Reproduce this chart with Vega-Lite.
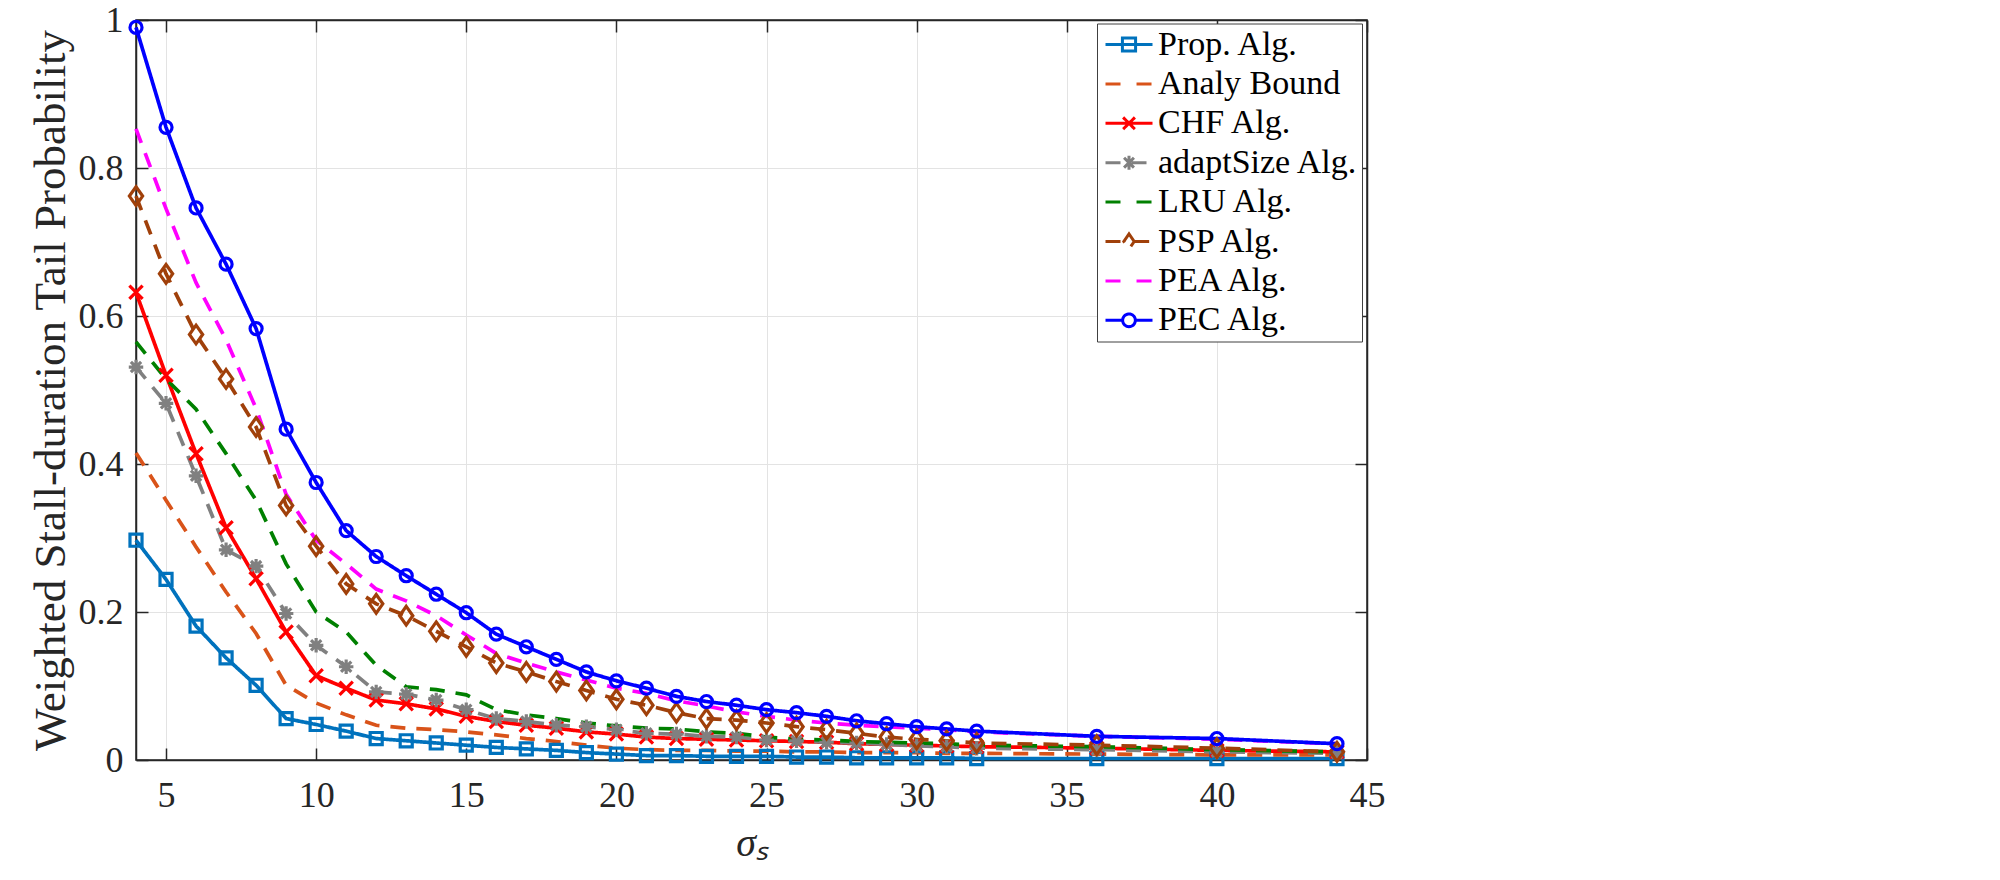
{
  "$schema": "https://vega.github.io/schema/vega-lite/v6.json",
  "width": 1231,
  "height": 740,
  "autosize": {"type": "none"},
  "padding": {"left": 136, "top": 20, "right": 633, "bottom": 120},
  "background": "white",
  "config": {
    "view": {"stroke": "#262626", "strokeWidth": 1.5},
    "font": "Liberation Serif"
  },
  "data": {
    "values": [
      {"s":"Prop. Alg.","x":4,"y":0.297},{"s":"Prop. Alg.","x":5,"y":0.244},{"s":"Prop. Alg.","x":6,"y":0.181},{"s":"Prop. Alg.","x":7,"y":0.138},{"s":"Prop. Alg.","x":8,"y":0.101},{"s":"Prop. Alg.","x":9,"y":0.056},{"s":"Prop. Alg.","x":10,"y":0.048},{"s":"Prop. Alg.","x":11,"y":0.039},{"s":"Prop. Alg.","x":12,"y":0.029},{"s":"Prop. Alg.","x":13,"y":0.026},{"s":"Prop. Alg.","x":14,"y":0.023},{"s":"Prop. Alg.","x":15,"y":0.020},{"s":"Prop. Alg.","x":16,"y":0.017},{"s":"Prop. Alg.","x":17,"y":0.015},{"s":"Prop. Alg.","x":18,"y":0.013},{"s":"Prop. Alg.","x":19,"y":0.010},{"s":"Prop. Alg.","x":20,"y":0.008},{"s":"Prop. Alg.","x":21,"y":0.006},{"s":"Prop. Alg.","x":22,"y":0.006},{"s":"Prop. Alg.","x":23,"y":0.005},{"s":"Prop. Alg.","x":24,"y":0.005},{"s":"Prop. Alg.","x":25,"y":0.005},{"s":"Prop. Alg.","x":26,"y":0.004},{"s":"Prop. Alg.","x":27,"y":0.004},{"s":"Prop. Alg.","x":28,"y":0.003},{"s":"Prop. Alg.","x":29,"y":0.003},{"s":"Prop. Alg.","x":30,"y":0.003},{"s":"Prop. Alg.","x":31,"y":0.003},{"s":"Prop. Alg.","x":32,"y":0.002},{"s":"Prop. Alg.","x":36,"y":0.002},{"s":"Prop. Alg.","x":40,"y":0.002},{"s":"Prop. Alg.","x":44,"y":0.002},
      {"s":"Analy Bound","x":4,"y":0.415},{"s":"Analy Bound","x":5,"y":0.351},{"s":"Analy Bound","x":6,"y":0.288},{"s":"Analy Bound","x":7,"y":0.227},{"s":"Analy Bound","x":8,"y":0.171},{"s":"Analy Bound","x":9,"y":0.101},{"s":"Analy Bound","x":10,"y":0.077},{"s":"Analy Bound","x":11,"y":0.061},{"s":"Analy Bound","x":12,"y":0.047},{"s":"Analy Bound","x":13,"y":0.043},{"s":"Analy Bound","x":14,"y":0.041},{"s":"Analy Bound","x":15,"y":0.038},{"s":"Analy Bound","x":16,"y":0.034},{"s":"Analy Bound","x":17,"y":0.029},{"s":"Analy Bound","x":18,"y":0.025},{"s":"Analy Bound","x":19,"y":0.020},{"s":"Analy Bound","x":20,"y":0.016},{"s":"Analy Bound","x":21,"y":0.014},{"s":"Analy Bound","x":22,"y":0.013},{"s":"Analy Bound","x":23,"y":0.013},{"s":"Analy Bound","x":24,"y":0.012},{"s":"Analy Bound","x":25,"y":0.012},{"s":"Analy Bound","x":26,"y":0.011},{"s":"Analy Bound","x":27,"y":0.011},{"s":"Analy Bound","x":28,"y":0.010},{"s":"Analy Bound","x":29,"y":0.010},{"s":"Analy Bound","x":30,"y":0.010},{"s":"Analy Bound","x":31,"y":0.009},{"s":"Analy Bound","x":32,"y":0.009},{"s":"Analy Bound","x":36,"y":0.008},{"s":"Analy Bound","x":40,"y":0.007},{"s":"Analy Bound","x":44,"y":0.007},
      {"s":"CHF Alg.","x":4,"y":0.632},{"s":"CHF Alg.","x":5,"y":0.520},{"s":"CHF Alg.","x":6,"y":0.414},{"s":"CHF Alg.","x":7,"y":0.314},{"s":"CHF Alg.","x":8,"y":0.245},{"s":"CHF Alg.","x":9,"y":0.173},{"s":"CHF Alg.","x":10,"y":0.114},{"s":"CHF Alg.","x":11,"y":0.097},{"s":"CHF Alg.","x":12,"y":0.081},{"s":"CHF Alg.","x":13,"y":0.076},{"s":"CHF Alg.","x":14,"y":0.069},{"s":"CHF Alg.","x":15,"y":0.059},{"s":"CHF Alg.","x":16,"y":0.052},{"s":"CHF Alg.","x":17,"y":0.047},{"s":"CHF Alg.","x":18,"y":0.043},{"s":"CHF Alg.","x":19,"y":0.038},{"s":"CHF Alg.","x":20,"y":0.035},{"s":"CHF Alg.","x":21,"y":0.031},{"s":"CHF Alg.","x":22,"y":0.029},{"s":"CHF Alg.","x":23,"y":0.028},{"s":"CHF Alg.","x":24,"y":0.027},{"s":"CHF Alg.","x":25,"y":0.026},{"s":"CHF Alg.","x":26,"y":0.025},{"s":"CHF Alg.","x":27,"y":0.024},{"s":"CHF Alg.","x":28,"y":0.022},{"s":"CHF Alg.","x":29,"y":0.021},{"s":"CHF Alg.","x":30,"y":0.020},{"s":"CHF Alg.","x":31,"y":0.019},{"s":"CHF Alg.","x":32,"y":0.018},{"s":"CHF Alg.","x":36,"y":0.016},{"s":"CHF Alg.","x":40,"y":0.013},{"s":"CHF Alg.","x":44,"y":0.011},
      {"s":"adaptSize Alg.","x":4,"y":0.531},{"s":"adaptSize Alg.","x":5,"y":0.482},{"s":"adaptSize Alg.","x":6,"y":0.384},{"s":"adaptSize Alg.","x":7,"y":0.284},{"s":"adaptSize Alg.","x":8,"y":0.262},{"s":"adaptSize Alg.","x":9,"y":0.198},{"s":"adaptSize Alg.","x":10,"y":0.155},{"s":"adaptSize Alg.","x":11,"y":0.126},{"s":"adaptSize Alg.","x":12,"y":0.092},{"s":"adaptSize Alg.","x":13,"y":0.089},{"s":"adaptSize Alg.","x":14,"y":0.081},{"s":"adaptSize Alg.","x":15,"y":0.068},{"s":"adaptSize Alg.","x":16,"y":0.056},{"s":"adaptSize Alg.","x":17,"y":0.052},{"s":"adaptSize Alg.","x":18,"y":0.047},{"s":"adaptSize Alg.","x":19,"y":0.045},{"s":"adaptSize Alg.","x":20,"y":0.041},{"s":"adaptSize Alg.","x":21,"y":0.036},{"s":"adaptSize Alg.","x":22,"y":0.035},{"s":"adaptSize Alg.","x":23,"y":0.032},{"s":"adaptSize Alg.","x":24,"y":0.031},{"s":"adaptSize Alg.","x":25,"y":0.027},{"s":"adaptSize Alg.","x":26,"y":0.026},{"s":"adaptSize Alg.","x":27,"y":0.024},{"s":"adaptSize Alg.","x":28,"y":0.023},{"s":"adaptSize Alg.","x":29,"y":0.021},{"s":"adaptSize Alg.","x":30,"y":0.019},{"s":"adaptSize Alg.","x":31,"y":0.018},{"s":"adaptSize Alg.","x":32,"y":0.016},{"s":"adaptSize Alg.","x":36,"y":0.014},{"s":"adaptSize Alg.","x":40,"y":0.011},{"s":"adaptSize Alg.","x":44,"y":0.009},
      {"s":"LRU Alg.","x":4,"y":0.565},{"s":"LRU Alg.","x":5,"y":0.515},{"s":"LRU Alg.","x":6,"y":0.474},{"s":"LRU Alg.","x":7,"y":0.414},{"s":"LRU Alg.","x":8,"y":0.351},{"s":"LRU Alg.","x":9,"y":0.265},{"s":"LRU Alg.","x":10,"y":0.200},{"s":"LRU Alg.","x":11,"y":0.173},{"s":"LRU Alg.","x":12,"y":0.128},{"s":"LRU Alg.","x":13,"y":0.099},{"s":"LRU Alg.","x":14,"y":0.095},{"s":"LRU Alg.","x":15,"y":0.088},{"s":"LRU Alg.","x":16,"y":0.068},{"s":"LRU Alg.","x":17,"y":0.061},{"s":"LRU Alg.","x":18,"y":0.056},{"s":"LRU Alg.","x":19,"y":0.050},{"s":"LRU Alg.","x":20,"y":0.046},{"s":"LRU Alg.","x":21,"y":0.043},{"s":"LRU Alg.","x":22,"y":0.042},{"s":"LRU Alg.","x":23,"y":0.038},{"s":"LRU Alg.","x":24,"y":0.036},{"s":"LRU Alg.","x":25,"y":0.031},{"s":"LRU Alg.","x":26,"y":0.028},{"s":"LRU Alg.","x":27,"y":0.027},{"s":"LRU Alg.","x":28,"y":0.025},{"s":"LRU Alg.","x":29,"y":0.024},{"s":"LRU Alg.","x":30,"y":0.023},{"s":"LRU Alg.","x":31,"y":0.022},{"s":"LRU Alg.","x":32,"y":0.020},{"s":"LRU Alg.","x":36,"y":0.018},{"s":"LRU Alg.","x":40,"y":0.014},{"s":"LRU Alg.","x":44,"y":0.011},
      {"s":"PSP Alg.","x":4,"y":0.762},{"s":"PSP Alg.","x":5,"y":0.657},{"s":"PSP Alg.","x":6,"y":0.575},{"s":"PSP Alg.","x":7,"y":0.515},{"s":"PSP Alg.","x":8,"y":0.450},{"s":"PSP Alg.","x":9,"y":0.344},{"s":"PSP Alg.","x":10,"y":0.289},{"s":"PSP Alg.","x":11,"y":0.238},{"s":"PSP Alg.","x":12,"y":0.211},{"s":"PSP Alg.","x":13,"y":0.195},{"s":"PSP Alg.","x":14,"y":0.174},{"s":"PSP Alg.","x":15,"y":0.153},{"s":"PSP Alg.","x":16,"y":0.131},{"s":"PSP Alg.","x":17,"y":0.119},{"s":"PSP Alg.","x":18,"y":0.106},{"s":"PSP Alg.","x":19,"y":0.094},{"s":"PSP Alg.","x":20,"y":0.082},{"s":"PSP Alg.","x":21,"y":0.074},{"s":"PSP Alg.","x":22,"y":0.064},{"s":"PSP Alg.","x":23,"y":0.056},{"s":"PSP Alg.","x":24,"y":0.054},{"s":"PSP Alg.","x":25,"y":0.050},{"s":"PSP Alg.","x":26,"y":0.045},{"s":"PSP Alg.","x":27,"y":0.041},{"s":"PSP Alg.","x":28,"y":0.036},{"s":"PSP Alg.","x":29,"y":0.031},{"s":"PSP Alg.","x":30,"y":0.028},{"s":"PSP Alg.","x":31,"y":0.026},{"s":"PSP Alg.","x":32,"y":0.023},{"s":"PSP Alg.","x":36,"y":0.020},{"s":"PSP Alg.","x":40,"y":0.016},{"s":"PSP Alg.","x":44,"y":0.011},
      {"s":"PEA Alg.","x":4,"y":0.853},{"s":"PEA Alg.","x":5,"y":0.745},{"s":"PEA Alg.","x":6,"y":0.645},{"s":"PEA Alg.","x":7,"y":0.568},{"s":"PEA Alg.","x":8,"y":0.475},{"s":"PEA Alg.","x":9,"y":0.359},{"s":"PEA Alg.","x":10,"y":0.297},{"s":"PEA Alg.","x":11,"y":0.265},{"s":"PEA Alg.","x":12,"y":0.231},{"s":"PEA Alg.","x":13,"y":0.215},{"s":"PEA Alg.","x":14,"y":0.195},{"s":"PEA Alg.","x":15,"y":0.169},{"s":"PEA Alg.","x":16,"y":0.144},{"s":"PEA Alg.","x":17,"y":0.131},{"s":"PEA Alg.","x":18,"y":0.119},{"s":"PEA Alg.","x":19,"y":0.108},{"s":"PEA Alg.","x":20,"y":0.097},{"s":"PEA Alg.","x":21,"y":0.090},{"s":"PEA Alg.","x":22,"y":0.080},{"s":"PEA Alg.","x":23,"y":0.073},{"s":"PEA Alg.","x":24,"y":0.065},{"s":"PEA Alg.","x":25,"y":0.059},{"s":"PEA Alg.","x":26,"y":0.054},{"s":"PEA Alg.","x":27,"y":0.050},{"s":"PEA Alg.","x":28,"y":0.047},{"s":"PEA Alg.","x":29,"y":0.045},{"s":"PEA Alg.","x":30,"y":0.043},{"s":"PEA Alg.","x":31,"y":0.041},{"s":"PEA Alg.","x":32,"y":0.038},{"s":"PEA Alg.","x":36,"y":0.032},{"s":"PEA Alg.","x":40,"y":0.028},{"s":"PEA Alg.","x":44,"y":0.022},
      {"s":"PEC Alg.","x":4,"y":0.990},{"s":"PEC Alg.","x":5,"y":0.855},{"s":"PEC Alg.","x":6,"y":0.746},{"s":"PEC Alg.","x":7,"y":0.670},{"s":"PEC Alg.","x":8,"y":0.583},{"s":"PEC Alg.","x":9,"y":0.447},{"s":"PEC Alg.","x":10,"y":0.375},{"s":"PEC Alg.","x":11,"y":0.310},{"s":"PEC Alg.","x":12,"y":0.275},{"s":"PEC Alg.","x":13,"y":0.249},{"s":"PEC Alg.","x":14,"y":0.224},{"s":"PEC Alg.","x":15,"y":0.199},{"s":"PEC Alg.","x":16,"y":0.170},{"s":"PEC Alg.","x":17,"y":0.153},{"s":"PEC Alg.","x":18,"y":0.136},{"s":"PEC Alg.","x":19,"y":0.119},{"s":"PEC Alg.","x":20,"y":0.107},{"s":"PEC Alg.","x":21,"y":0.097},{"s":"PEC Alg.","x":22,"y":0.086},{"s":"PEC Alg.","x":23,"y":0.079},{"s":"PEC Alg.","x":24,"y":0.074},{"s":"PEC Alg.","x":25,"y":0.068},{"s":"PEC Alg.","x":26,"y":0.064},{"s":"PEC Alg.","x":27,"y":0.059},{"s":"PEC Alg.","x":28,"y":0.053},{"s":"PEC Alg.","x":29,"y":0.049},{"s":"PEC Alg.","x":30,"y":0.045},{"s":"PEC Alg.","x":31,"y":0.042},{"s":"PEC Alg.","x":32,"y":0.039},{"s":"PEC Alg.","x":36,"y":0.032},{"s":"PEC Alg.","x":40,"y":0.029},{"s":"PEC Alg.","x":44,"y":0.022}
    ]
  },
  "layer": [
    {
      "mark": {"type": "line", "strokeWidth": 3.7},
      "encoding": {
        "x": {
          "field": "x", "type": "quantitative",
          "scale": {"domain": [4, 45], "nice": false, "zero": false},
          "axis": {
            "orient": "bottom",
            "values": [5, 10, 15, 20, 25, 30, 35, 40, 45],
            "grid": true, "gridColor": "#e3e3e3", "gridWidth": 1,
            "domainColor": "#262626", "domainWidth": 1.5,
            "tickColor": "#262626", "tickWidth": 1.5, "tickSize": -12,
            "labelFont": "Liberation Serif", "labelFontSize": 36, "labelColor": "#262626",
            "labelPadding": 30, "labelFlush": false, "labelOverlap": false,
            "title": "σₛ",
            "titleFont": "Liberation Serif", "titleFontSize": 40, "titleFontStyle": "italic",
            "titleFontWeight": "normal", "titleColor": "#262626", "titlePadding": 10
          }
        },
        "y": {
          "field": "y", "type": "quantitative",
          "scale": {"domain": [0, 1], "nice": false, "zero": false},
          "axis": {
            "orient": "left",
            "values": [0, 0.2, 0.4, 0.6, 0.8, 1],
            "format": "~g",
            "grid": true, "gridColor": "#e3e3e3", "gridWidth": 1,
            "domainColor": "#262626", "domainWidth": 1.5,
            "tickColor": "#262626", "tickWidth": 1.5, "tickSize": -12,
            "labelFont": "Liberation Serif", "labelFontSize": 36, "labelColor": "#262626",
            "labelPadding": 25, "labelOverlap": false,
            "title": "Weighted Stall-duration Tail Probability",
            "titleFont": "Liberation Serif", "titleFontSize": 45,
            "titleFontWeight": "normal", "titleColor": "#262626", "titlePadding": 5
          }
        },
        "color": {
          "field": "s", "type": "nominal",
          "scale": {
            "domain": ["Prop. Alg.", "Analy Bound", "CHF Alg.", "adaptSize Alg.", "LRU Alg.", "PSP Alg.", "PEA Alg.", "PEC Alg."],
            "range": ["#0072BD", "#D95319", "#FF0000", "#808080", "#008000", "#A0400A", "#FF00FF", "#0000FF"]
          },
          "legend": {
            "orient": "none", "legendX": 961, "legendY": 3.5,
            "title": null, "direction": "vertical",
            "strokeColor": "#404040", "fillColor": "white", "cornerRadius": 0,
            "padding": 3, "symbolSize": 2209, "symbolStrokeWidth": 3,
            "symbolOffset": 4, "labelOffset": 4, "clipHeight": 36, "rowPadding": 3.4,
            "labelFont": "Liberation Serif", "labelFontSize": 34, "labelColor": "#000000", "labelLimit": 400,
            "encode": {
              "symbols": {
                "update": {
                  "shape": {"signal": "datum.value === 'Prop. Alg.' ? 'M-1,0H1M-0.28,-0.28H0.28V0.28H-0.28Z' : datum.value === 'CHF Alg.' ? 'M-1,0H1M-0.25,-0.25L0.25,0.25M-0.25,0.25L0.25,-0.25' : datum.value === 'adaptSize Alg.' ? 'M-1,0H1M0,-0.3V0.3M-0.21,-0.21L0.21,0.21M-0.21,0.21L0.21,-0.21' : datum.value === 'PSP Alg.' ? 'M-1,0H-0.22M0.22,0H1M0,-0.32L0.22,0L0,0.32L-0.22,0Z' : datum.value === 'PEC Alg.' ? 'M-1,0H-0.27M0.27,0H1M0.27,0A0.27,0.27 0 1,1 -0.27,0A0.27,0.27 0 1,1 0.27,0Z' : 'M-1,0H-0.32M0.32,0H1'"},
                  "fill": {"value": "transparent"},
                  "strokeDash": {"value": [1, 0]},
                  "strokeWidth": {"value": 3}
                }
              }
            }
          }
        },
        "strokeDash": {
          "field": "s", "type": "nominal",
          "scale": {
            "domain": ["Prop. Alg.", "Analy Bound", "CHF Alg.", "adaptSize Alg.", "LRU Alg.", "PSP Alg.", "PEA Alg.", "PEC Alg."],
            "range": [[1, 0], [15, 11], [1, 0], [15, 11], [15, 11], [15, 11], [15, 11], [1, 0]]
          },
          "legend": null
        }
      }
    },
    {
      "transform": [{"filter": {"field": "s", "oneOf": ["Prop. Alg.", "CHF Alg.", "adaptSize Alg.", "PSP Alg.", "PEC Alg."]}}],
      "mark": {"type": "point", "filled": false, "strokeWidth": 3.2, "size": 145, "opacity": 1},
      "encoding": {
        "x": {"field": "x", "type": "quantitative", "axis": null},
        "y": {"field": "y", "type": "quantitative", "axis": null},
        "color": {"field": "s", "type": "nominal", "legend": null},
        "shape": {
          "field": "s", "type": "nominal",
          "scale": {
            "domain": ["Prop. Alg.", "CHF Alg.", "adaptSize Alg.", "PSP Alg.", "PEC Alg."],
            "range": ["square", "M-1.1,-1.1L1.1,1.1M-1.1,1.1L1.1,-1.1", "M-1.2,0H1.2M0,-1.2V1.2M-0.85,-0.85L0.85,0.85M-0.85,0.85L0.85,-0.85", "M0,-1.55L1.1,0L0,1.55L-1.1,0Z", "circle"]
          },
          "legend": null
        }
      }
    },
    {
      "mark": {"type": "point", "opacity": 0},
      "encoding": {
        "x": {
          "field": "x", "type": "quantitative",
          "axis": {
            "orient": "top", "values": [5, 10, 15, 20, 25, 30, 35, 40, 45],
            "labels": false, "grid": false, "title": null,
            "domainColor": "#262626", "domainWidth": 1.5,
            "tickColor": "#262626", "tickWidth": 1.5, "tickSize": -12
          }
        },
        "y": {
          "field": "y", "type": "quantitative",
          "axis": {
            "orient": "right", "values": [0, 0.2, 0.4, 0.6, 0.8, 1],
            "labels": false, "grid": false, "title": null,
            "domainColor": "#262626", "domainWidth": 1.5,
            "tickColor": "#262626", "tickWidth": 1.5, "tickSize": -12
          }
        }
      }
    }
  ]
}
